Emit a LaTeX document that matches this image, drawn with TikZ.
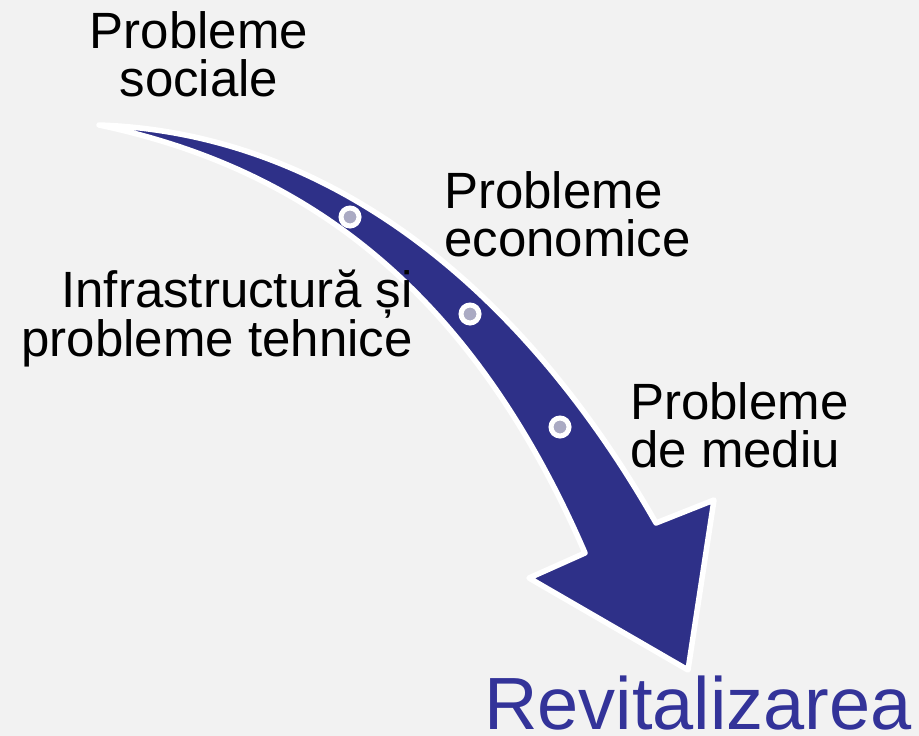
\documentclass[tikz,border=0pt]{standalone}
\usepackage{fontspec}
\setmainfont{Liberation Sans}
\usetikzlibrary{positioning}
\definecolor{arrowblue}{HTML}{2E3088}
\definecolor{textblue}{HTML}{333399}
\definecolor{dotgray}{HTML}{AAAAC3}
\definecolor{bggray}{HTML}{F2F2F2}

\begin{document}
\begin{tikzpicture}[x=1pt,y=-1pt,
        lbl/.style={inner sep=0pt,font=\fontsize{51}{48.5}\selectfont},
        dot/.style={shape=circle,fill=dotgray,draw=white,line width=5pt,inner sep=0pt,minimum size=18pt}]
                \fill[bggray](0,0)rectangle(919,736);
                \useasboundingbox(0,0)rectangle(919,736);
                % the curved arrow
                \draw[fill=arrowblue,draw=white,line width=5.5pt,line join=round]
                (99,125) .. controls (330,133) and (522,288) .. (656,523)
                -- (714,500) -- (688,670) -- (529,578) -- (585,553)
                .. controls (468,282) and (298,167) .. (99,125) -- cycle;
                \node[dot](1)at(350, 217){};
                \node[dot](2)at(470, 314){};
                \node[dot](3)at(560, 427){};
                \node[lbl,align=center,anchor=north](sociale)at(199, 11){Probleme\\sociale};
                \node[lbl,align=left,anchor=north west](economice)at(444, 171){Probleme\\economice};
                \node[lbl,align=right,anchor=north east](tehnice)at(413, 270){Infrastructură și\\probleme tehnice};
                \node[lbl,align=left,anchor=north west](mediu)at(630, 382){Probleme\\de mediu};
                \node[inner sep=0pt,anchor=north west,text=textblue,font=\fontsize{74}{74}\selectfont](revit)at(484, 676){Revitalizarea};
            \end{tikzpicture}
\end{document}
